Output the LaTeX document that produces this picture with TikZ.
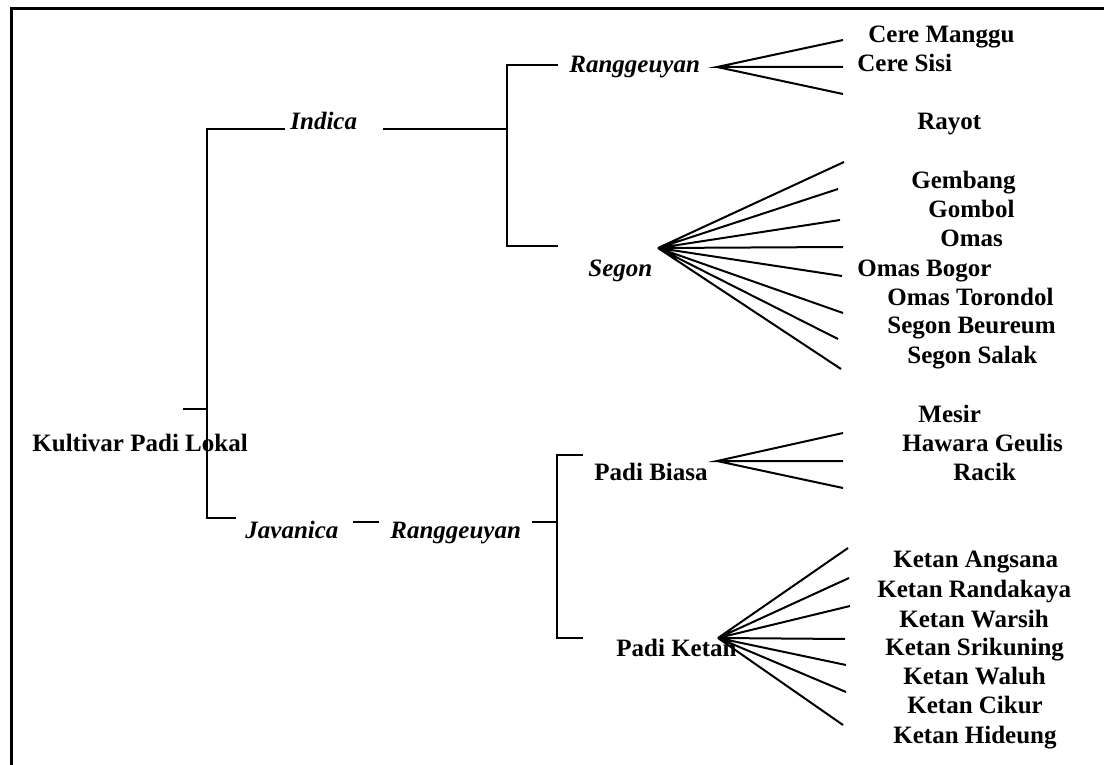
\documentclass[tikz,border=0pt]{standalone}
\usepackage{fontspec}
\setmainfont{Liberation Serif}

\tikzset{
	cultivar/.style={font=\fontsize{12.5}{15}\selectfont\bfseries, anchor=base west, inner sep=0pt},
	taxon/.style={cultivar, font=\fontsize{12.5}{15}\selectfont\bfseries\itshape},
	branch/.style={line width=1pt},
	frame/.style={line width=1.5pt},
}

\begin{document}
\begin{tikzpicture}[x=0.5pt,y=-0.5pt]
	\useasboundingbox (0,0) rectangle (1104,765);
	\coordinate (frameR) at (1104,9);
	\coordinate (frameTL) at (11,9);
	\coordinate (frameB) at (11,765);
	\draw[frame] (frameR) -- (frameTL) -- (frameB);

	\node[cultivar] (kultivar) at (32,451) {Kultivar Padi Lokal};
	\node[taxon] (indica) at (290,130) {Indica};
	\node[taxon] (javanica) at (245,538) {Javanica};
	\node[taxon] (ranggA) at (569,73) {Ranggeuyan};
	\node[taxon] (segon) at (588,277) {Segon};
	\node[taxon] (ranggB) at (390,538) {Ranggeuyan};
	\node[cultivar] (biasa) at (594,480) {Padi Biasa};
	\node[cultivar] (ketan) at (616,656) {Padi Ketan};

	\node[cultivar] (cereM) at (868,43) {Cere Manggu};
	\node[cultivar] (cereS) at (857,72) {Cere Sisi};
	\node[cultivar] (rayot) at (917,130) {Rayot};
	\node[cultivar] (gembang) at (911,189) {Gembang};
	\node[cultivar] (gombol) at (928,218) {Gombol};
	\node[cultivar] (omas) at (940,247) {Omas};
	\node[cultivar] (omasB) at (857,276) {Omas Bogor};
	\node[cultivar] (omasT) at (887,305) {Omas Torondol};
	\node[cultivar] (segonB) at (887,333) {Segon Beureum};
	\node[cultivar] (segonS) at (907,363) {Segon Salak};

	\node[cultivar] (mesir) at (918,422) {Mesir};
	\node[cultivar] (hawara) at (902,451) {Hawara Geulis};
	\node[cultivar] (racik) at (953,480) {Racik};

	\node[cultivar] (angsana) at (893,567) {Ketan Angsana};
	\node[cultivar] (randakaya) at (877,597) {Ketan Randakaya};
	\node[cultivar] (warsih) at (899,627) {Ketan Warsih};
	\node[cultivar] (srikuning) at (885,655) {Ketan Srikuning};
	\node[cultivar] (waluh) at (903,684) {Ketan Waluh};
	\node[cultivar] (cikur) at (907,713) {Ketan Cikur};
	\node[cultivar] (hideung) at (893,743) {Ketan Hideung};

	\coordinate (rootStub) at (183,409);
	\coordinate (rootJoin) at (207,409);
	\coordinate (trunkT) at (207,129);
	\coordinate (trunkB) at (207,518);
	\coordinate (indicaL) at (285,129);
	\coordinate (javanicaL) at (236,518);
	\coordinate (indicaR) at (383,129);
	\coordinate (indicaJ) at (507,129);
	\coordinate (indicaT) at (507,65);
	\coordinate (indicaB) at (507,246);
	\coordinate (ranggAL) at (558,65);
	\coordinate (segonL) at (558,246);
	\coordinate (javanicaR) at (353,522);
	\coordinate (ranggBL) at (379,522);
	\coordinate (ranggBR) at (532,522);
	\coordinate (ranggBJ) at (557,522);
	\coordinate (ranggBT) at (557,455);
	\coordinate (ranggBB) at (557,638);
	\coordinate (biasaL) at (583,455);
	\coordinate (ketanL) at (583,638);

	\coordinate (ranggAfan) at (717,67);
	\coordinate (a1) at (843,40);
	\coordinate (a2) at (843,67);
	\coordinate (a3) at (843,94);
	\coordinate (segonfan) at (658,248);
	\coordinate (s1) at (844,162);
	\coordinate (s2) at (838,189);
	\coordinate (s3) at (840,220);
	\coordinate (s4) at (843,247);
	\coordinate (s5) at (842,276);
	\coordinate (s6) at (843,313);
	\coordinate (s7) at (838,339);
	\coordinate (s8) at (841,369);
	\coordinate (biasafan) at (717,461);
	\coordinate (b1) at (843,433);
	\coordinate (b2) at (843,461);
	\coordinate (b3) at (843,488);
	\coordinate (ketanfan) at (718,638);
	\coordinate (k1) at (848,548);
	\coordinate (k2) at (849,578);
	\coordinate (k3) at (850,606);
	\coordinate (k4) at (845,639);
	\coordinate (k5) at (846,665);
	\coordinate (k6) at (846,692);
	\coordinate (k7) at (843,725);

	\draw[branch] (rootStub) -- (rootJoin);
	\draw[branch] (indicaL) -- (trunkT) -- (trunkB) -- (javanicaL);
	\draw[branch] (indicaR) -- (indicaJ);
	\draw[branch] (ranggAL) -- (indicaT) -- (indicaB) -- (segonL);
	\draw[branch] (javanicaR) -- (ranggBL);
	\draw[branch] (ranggBR) -- (ranggBJ);
	\draw[branch] (biasaL) -- (ranggBT) -- (ranggBB) -- (ketanL);

	\draw[branch] (a1) -- (ranggAfan) -- (a2) (ranggAfan) -- (a3);
	\draw[branch] (s1) -- (segonfan) -- (s2) (segonfan) -- (s3) (segonfan) -- (s4)
		(segonfan) -- (s5) (segonfan) -- (s6) (segonfan) -- (s7) (segonfan) -- (s8);
	\draw[branch] (b1) -- (biasafan) -- (b2) (biasafan) -- (b3);
	\draw[branch] (k1) -- (ketanfan) -- (k2) (ketanfan) -- (k3) (ketanfan) -- (k4)
		(ketanfan) -- (k5) (ketanfan) -- (k6) (ketanfan) -- (k7);
\end{tikzpicture}
\end{document}
